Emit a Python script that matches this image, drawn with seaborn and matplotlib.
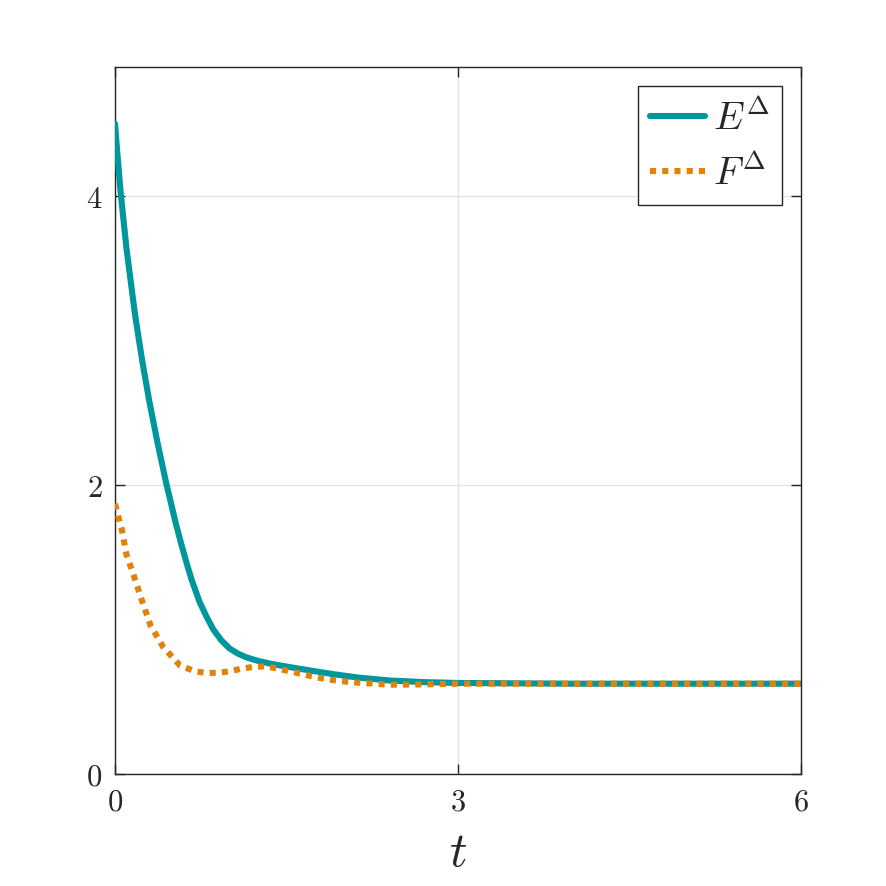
import numpy as np
import pandas as pd
import seaborn as sns
import matplotlib
matplotlib.use("Agg")
import matplotlib.pyplot as plt

# --- data ---
t_E = [0.0, 0.02, 0.05, 0.10, 0.175, 0.24, 0.30, 0.37, 0.446, 0.53, 0.58, 0.63, 0.67,
       0.74, 0.80, 0.86, 0.93, 1.00, 1.07, 1.15, 1.25, 1.38, 1.55, 1.71, 1.90, 2.12,
       2.40, 2.70, 3.0, 4.0, 5.0, 6.0]
E_vals = [4.50, 4.30, 4.02, 3.64, 3.18, 2.85, 2.58, 2.30, 2.02, 1.74, 1.59, 1.45, 1.345,
          1.19, 1.09, 1.00, 0.925, 0.87, 0.835, 0.807, 0.783, 0.76, 0.737, 0.716, 0.692, 0.668,
          0.647, 0.636, 0.63, 0.625, 0.625, 0.625]

t_F = [0.0, 0.06, 0.10, 0.17, 0.24, 0.31, 0.42, 0.57, 0.70, 0.80, 0.89, 1.00, 1.11,
       1.20, 1.31, 1.42, 1.53, 1.70, 1.85, 2.07, 2.40, 2.70, 3.0, 4.0, 5.0, 6.0]
F_vals = [1.87, 1.69, 1.52, 1.36, 1.19, 1.03, 0.88, 0.75, 0.71, 0.70, 0.70, 0.71, 0.73,
          0.74, 0.745, 0.73, 0.71, 0.68, 0.655, 0.635, 0.618, 0.62, 0.625, 0.625, 0.625, 0.625]

x_ticks = [0, 3, 6]
y_ticks = [0, 2, 4]
series_labels = [r"$E^{\Delta}$", r"$F^{\Delta}$"]
colors = ["#00969E", "#E3820A"]

sns.set_theme(style="ticks")
plt.rcParams["mathtext.fontset"] = "cm"
plt.rcParams["font.family"] = ["serif"]
plt.rcParams["font.serif"] = ["DejaVu Serif"]

fig = plt.figure(figsize=(8.86, 8.86), dpi=100)
ax = fig.add_axes([115/886, 1-774/886, (801-115)/886, (774-67)/886])

dfE = pd.DataFrame({"t": t_E, "v": E_vals})
dfF = pd.DataFrame({"t": t_F, "v": F_vals})

ax.grid(True, color="#e3e3e3", linewidth=1.0, zorder=0)
sns.lineplot(data=dfE, x="t", y="v", ax=ax, color=colors[0], linewidth=4.4,
             label=series_labels[0], zorder=3, solid_joinstyle="round")
sns.lineplot(data=dfF, x="t", y="v", ax=ax, color=colors[1], linewidth=4.4,
             linestyle=(0, (1, 1)), dash_capstyle="butt", label=series_labels[1], zorder=4)

ax.set_xlim(0, 6)
ax.set_ylim(0, 4.893)
ax.set_xticks(x_ticks)
ax.set_yticks(y_ticks)
ax.set_xticklabels([f"${v}$" for v in x_ticks])
ax.set_yticklabels([f"${v}$" for v in y_ticks])
ax.tick_params(direction="in", length=7, width=1.0, color="#262626",
               labelsize=22, labelcolor="#262626", top=True, right=True, pad=9)
ax.set_xlabel(r"$t$", fontsize=35, labelpad=8)
ax.set_ylabel("")
for s in ax.spines.values():
    s.set_color("#262626")
    s.set_linewidth(1.0)

leg = ax.legend(loc="upper right", fontsize=28, handlelength=1.4, frameon=True,
                fancybox=False, edgecolor="#262626", framealpha=1, borderaxespad=0.5,
                handletextpad=0.2, labelspacing=0.4, borderpad=0.32)
leg.get_frame().set_linewidth(1.0)

fig.savefig("out.png", dpi=100, facecolor="white")
